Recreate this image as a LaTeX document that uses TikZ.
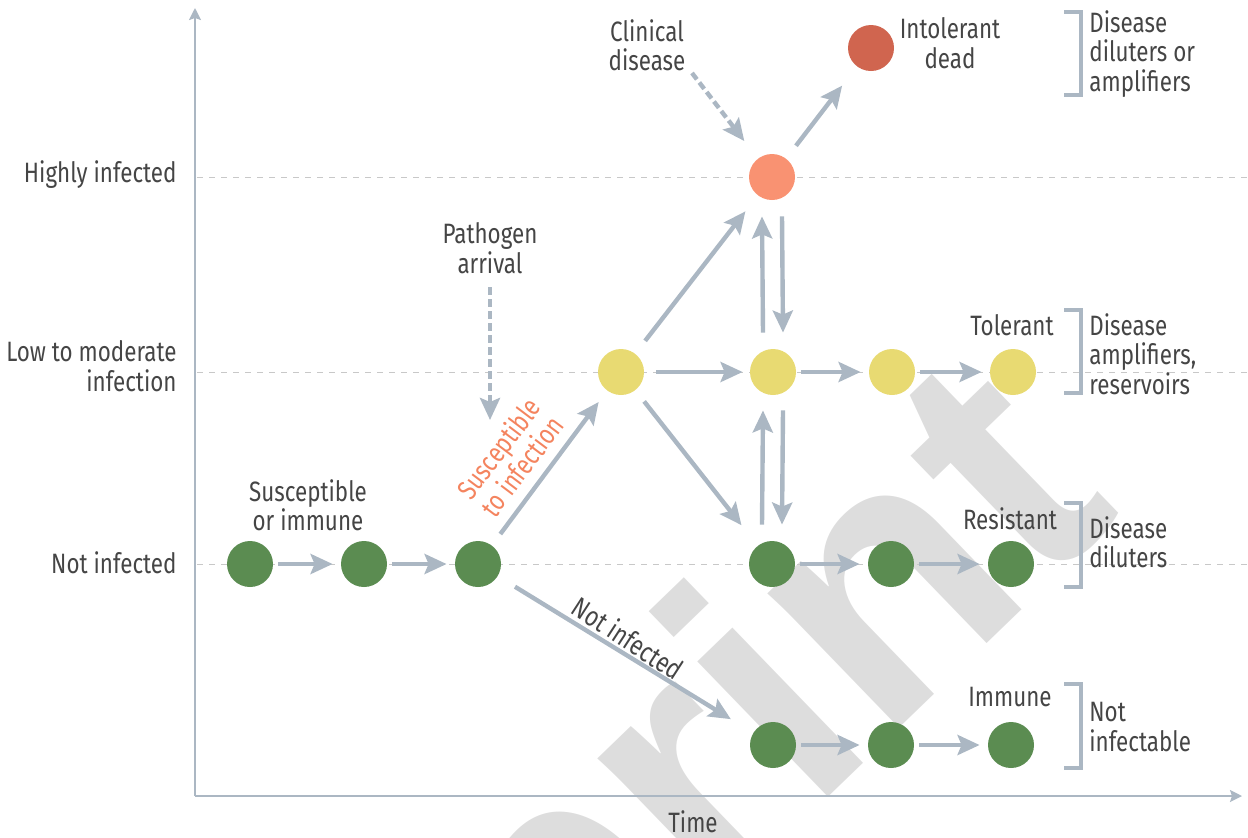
\documentclass[tikz,border=0pt]{standalone}
\usepackage{fontspec}
\setmainfont{Fira Sans}[FakeStretch=0.8]
\newfontfamily\wmfont{Liberation Sans}
\usetikzlibrary{arrows.meta,calc}
\definecolor{grn}{HTML}{5B8C51}
\definecolor{ylw}{HTML}{E8DA72}
\definecolor{org}{HTML}{F99272}
\definecolor{dred}{HTML}{D0654F}
\definecolor{arrc}{HTML}{ABB7C3}
\definecolor{dashc}{HTML}{C8C8C8}
\definecolor{txt}{HTML}{454545}
\definecolor{otxt}{HTML}{F4845F}
\definecolor{wmc}{HTML}{DDDDDD}
\begin{document}
\begin{tikzpicture}[x=0.5pt,y=-0.5pt,
  dot/.style={circle, inner sep=0pt, minimum size=23pt},
  arr/.style={draw=arrc, line width=2.2pt, -{Stealth[length=11pt,width=10pt,inset=2pt]}},
  darr/.style={arr, dash pattern=on 4pt off 2pt},
  lvl/.style={draw=dashc, line width=0.5pt, dash pattern=on 3pt off 3pt},
  axis/.style={draw=arrc, line width=1pt, -{Stealth[length=6pt,width=6pt,inset=1pt]}},
  brk/.style={draw=arrc, line width=1.8pt},
  lab/.style={text=txt, font=\fontsize{14}{14.7}\selectfont, align=center, inner sep=0pt},
  hs/.style={shorten <=2.5pt, shorten >=4pt}
]
\useasboundingbox (0,0) rectangle (1248,837);
% watermark
\begin{scope}
\clip (0,0) rectangle (1248,837);
\node[text=wmc, font=\wmfont\bfseries\fontsize{178}{178}\selectfont, rotate=44, anchor=base east, inner sep=0pt] (wm) at (1124,512) {Preprint};
\end{scope}
% level lines
\draw[lvl] (197,177) -- (1248,177);
\draw[lvl] (197,372) -- (1248,372);
\draw[lvl] (197,564) -- (1248,564);
% axes
\coordinate (O) at (195,796);
\coordinate (Ytop) at (195,8);
\coordinate (Xend) at (1242,796);
\draw[axis] (O) -- (Ytop);
\draw[axis] (O) -- (Xend);
% circles
\node[dot, fill=grn] (g1) at (250,564) {};
\node[dot, fill=grn] (g2) at (364,564) {};
\node[dot, fill=grn] (g3) at (478,564) {};
\node[dot, fill=grn] (g4) at (772,564) {};
\node[dot, fill=grn] (g5) at (891,564) {};
\node[dot, fill=grn] (g6) at (1011,564) {};
\node[dot, fill=grn] (i1) at (773,745) {};
\node[dot, fill=grn] (i2) at (891,745) {};
\node[dot, fill=grn] (i3) at (1011,745) {};
\node[dot, fill=ylw] (y1) at (621,372) {};
\node[dot, fill=ylw] (y2) at (773,372) {};
\node[dot, fill=ylw] (y3) at (892,372) {};
\node[dot, fill=ylw] (y4) at (1013,372) {};
\node[dot, fill=org] (or) at (772,177) {};
\node[dot, fill=dred] (dd) at (871,48) {};
% arrows
\draw[arr, hs] (g1) -- (g2);
\draw[arr, hs] (g2) -- (g3);
\draw[arr, hs] (g4) -- (g5);
\draw[arr, hs] (g5) -- (g6);
\draw[arr, hs] (i1) -- (i2);
\draw[arr, hs] (i2) -- (i3);
\draw[arr, shorten <=6pt, shorten >=3.5pt] (y1) -- (y2);
\draw[arr, hs] (y2) -- (y3);
\draw[arr, hs] (y3) -- (y4);
\draw[arr, shorten <=7pt, shorten >=7pt] (g3) -- (y1);
\draw[arr, shorten <=8pt, shorten >=10pt] (y1) -- (or);
\draw[arr, shorten <=7pt, shorten >=13pt] (y1) -- (g4);
\draw[arr, shorten <=8pt, shorten >=12pt] (or) -- (dd);
\draw[arr, shorten <=10pt, shorten >=13pt] (g3) -- (i1);
\draw[arr] ([xshift=-5pt,yshift=8pt]y2.north) -- ([xshift=-5pt,yshift=-8pt]or.south);
\draw[arr] ([xshift=5pt,yshift=-8pt]or.south) -- ([xshift=5pt,yshift=8pt]y2.north);
\draw[arr] ([xshift=-5pt,yshift=8pt]g4.north) -- ([xshift=-5pt,yshift=-7.5pt]y2.south);
\draw[arr] ([xshift=5pt,yshift=-7.5pt]y2.south) -- ([xshift=5pt,yshift=8pt]g4.north);
% labels
\node[lab, anchor=east] (lhi) at (177,175) {Highly infected};
\node[lab, anchor=east, align=right] (llo) at (177,366) {Low to moderate\\infection};
\node[lab, anchor=east] (lno) at (177,563) {Not infected};
\node[lab] (ltime) at (693,822) {Time};
\node[lab] (lsus) at (308,505) {Susceptible\\or immune};
\node[lab] (lpath) at (490,248) {Pathogen\\arrival};
\node[lab] (lclin) at (647,45) {Clinical\\disease};
\node[lab] (lint) at (950,43) {Intolerant\\dead};
\node[lab] (ltol) at (1012,325) {Tolerant};
\node[lab] (lres) at (1010,519) {Resistant};
\node[lab] (limm) at (1010,697) {Immune};
\node[lab, text=otxt, rotate=53] (lsti) at (510,457) {Susceptible\\to infection};
\node[lab, rotate=-33] (lni) at (628,638) {Not infected};
% dashed arrows
\coordinate (pa) at (490,287);
\coordinate (ca) at (692,73);
\draw[darr] (pa) -- ($(pa)+(0,133)$);
\draw[darr, shorten >=11pt] (ca) -- (or);
% brackets
\draw[brk] (1064,12) -- (1081,12) -- (1081,95) -- (1064,95);
\draw[brk] (1064,310) -- (1081,310) -- (1081,393) -- (1064,393);
\draw[brk] (1064,503) -- (1081,503) -- (1081,587) -- (1064,587);
\draw[brk] (1064,684) -- (1081,684) -- (1081,768) -- (1064,768);
\node[lab, anchor=west, align=left] (b1) at (1089,54) {Disease\\diluters or\\amplifiers};
\node[lab, anchor=west, align=left] (b2) at (1089,354) {Disease\\amplifiers,\\reservoirs};
\node[lab, anchor=west, align=left] (b3) at (1089,542) {Disease\\diluters};
\node[lab, anchor=west, align=left] (b4) at (1089,727) {Not\\infectable};
\end{tikzpicture}
\end{document}
